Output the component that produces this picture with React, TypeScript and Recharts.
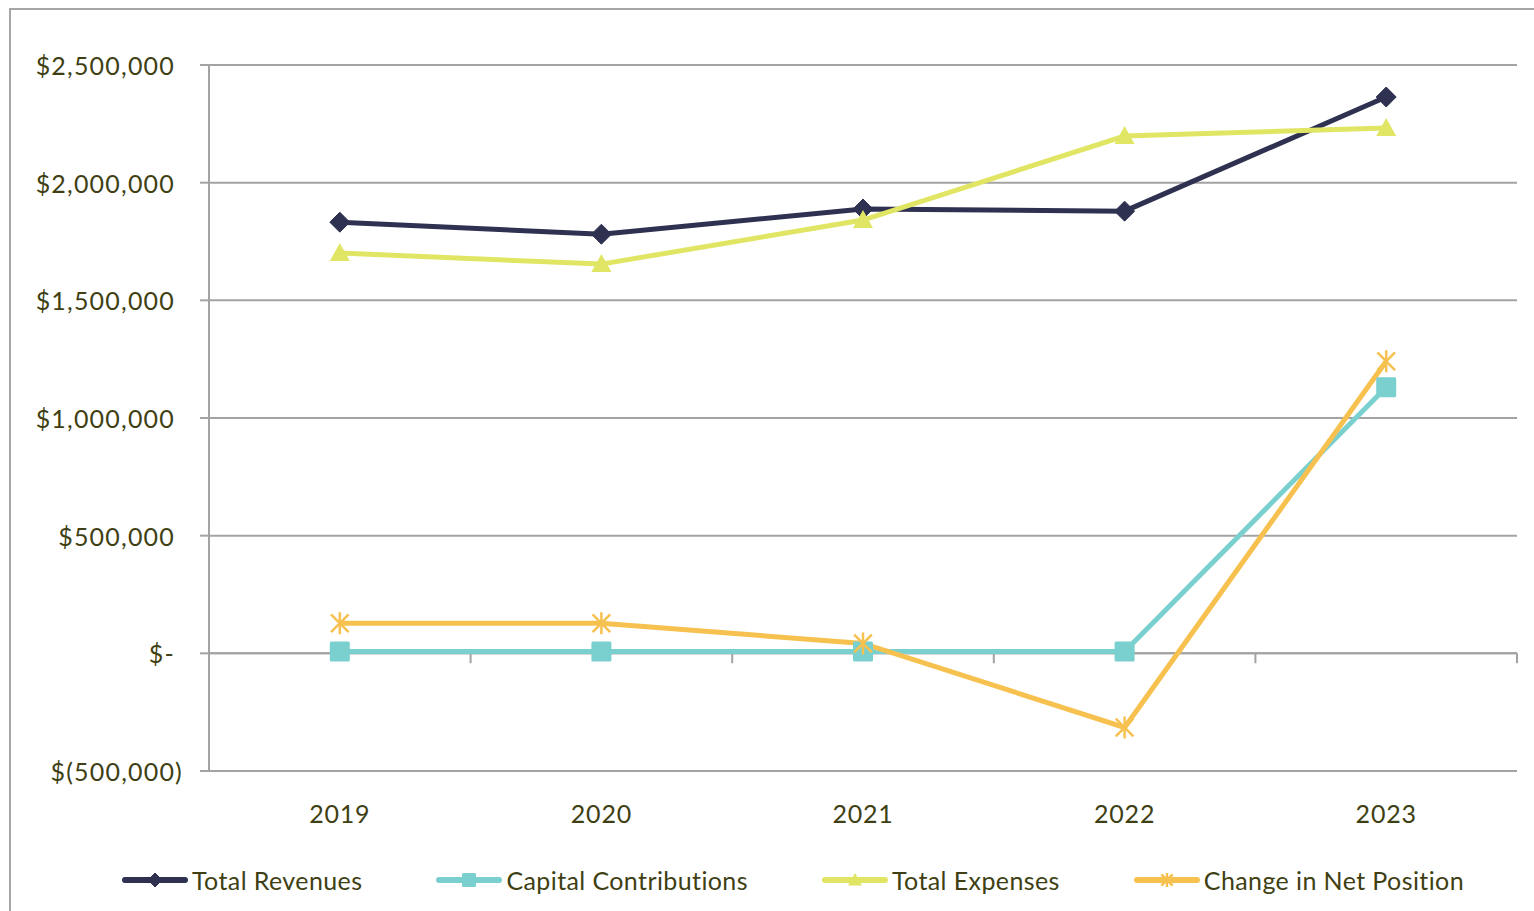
import React from 'react';
import { LineChart, Line, XAxis, YAxis, CartesianGrid, ReferenceLine } from 'recharts';

const years = ['2019', '2020', '2021', '2022', '2023'];
const totalRevenues = [1832000, 1781000, 1888000, 1879000, 2364000];
const capitalContributions = [8000, 8000, 8000, 8000, 1131000];
const totalExpenses = [1701000, 1654000, 1841000, 2198000, 2232000];
const changeInNetPosition = [128000, 128000, 42000, -315000, 1241000];
const yTicks = [-500000, 0, 500000, 1000000, 1500000, 2000000, 2500000];

const TEXT = '#403F14';
const GRID = '#A3A3A3';
const FONT = 'Lato, "Open Sans", sans-serif';

type MarkerKind = 'diamond' | 'square' | 'triangle' | 'star';

const SERIES: { key: string; name: string; color: string; marker: MarkerKind }[] = [
  { key: 'revenues', name: 'Total Revenues', color: '#2E3250', marker: 'diamond' },
  { key: 'capital', name: 'Capital Contributions', color: '#7AD0CF', marker: 'square' },
  { key: 'expenses', name: 'Total Expenses', color: '#E0E664', marker: 'triangle' },
  { key: 'change', name: 'Change in Net Position', color: '#F7C150', marker: 'star' },
];

const data = years.map((year, i) => ({
  year,
  revenues: totalRevenues[i],
  capital: capitalContributions[i],
  expenses: totalExpenses[i],
  change: changeInNetPosition[i],
}));

const formatMoney = (v: number) => {
  if (v === 0) return '$-';
  const s = Math.abs(v).toLocaleString('en-US');
  return v < 0 ? `$(${s})` : `$${s}`;
};

const Marker = ({ kind, cx, cy, r, color }: { kind: MarkerKind; cx: number; cy: number; r: number; color: string }) => {
  if (kind === 'diamond') {
    return <polygon points={`${cx},${cy - r} ${cx + r},${cy} ${cx},${cy + r} ${cx - r},${cy}`} fill={color} stroke={color} strokeWidth={1} strokeLinejoin="round" />;
  }
  if (kind === 'square') {
    return <rect x={cx - r} y={cy - r} width={r * 2} height={r * 2} rx={1.5} fill={color} />;
  }
  if (kind === 'triangle') {
    return <polygon points={`${cx},${cy - r} ${cx + r},${cy + r * 0.8} ${cx - r},${cy + r * 0.8}`} fill={color} />;
  }
  const d = r * 0.8;
  return (
    <g stroke={color} strokeWidth={2.5}>
      <line x1={cx} y1={cy - r} x2={cx} y2={cy + r} />
      <line x1={cx - d} y1={cy - d} x2={cx + d} y2={cy + d} />
      <line x1={cx - d} y1={cy + d} x2={cx + d} y2={cy - d} />
    </g>
  );
};

const makeDot = (kind: MarkerKind, color: string, r: number) => (props: any) => {
  const { cx, cy, index } = props;
  if (cx == null || cy == null) return <g key={index} />;
  return <g key={index}><Marker kind={kind} cx={cx} cy={cy} r={r} color={color} /></g>;
};

const YTick = (props: any) => {
  const { x, y, payload } = props;
  const v = payload.value as number;
  return (
    <text x={x + (v < 0 ? 8 : 0)} y={y} textAnchor="end" dominantBaseline="central" fill={TEXT} fontSize={25} letterSpacing={1.2} fontFamily={FONT}>
      {formatMoney(v)}
    </text>
  );
};

const XTick = (props: any) => {
  const { x, y, payload } = props;
  return (
    <text x={x} y={y + 42} textAnchor="middle" dominantBaseline="central" fill={TEXT} fontSize={25} letterSpacing={0.8} fontFamily={FONT}>
      {payload.value}
    </text>
  );
};

const LegendRow = () => (
  <div style={{ position: 'absolute', left: 122, top: 862, display: 'flex', gap: 74, fontFamily: FONT, fontSize: 25, letterSpacing: 0.4, color: TEXT }}>
    {SERIES.map(s => (
      <div key={s.key} style={{ display: 'flex', alignItems: 'center', height: 36 }}>
        <svg width={66} height={24} style={{ marginRight: 4 }}>
          <line x1={3} y1={12} x2={63} y2={12} stroke={s.color} strokeWidth={6} strokeLinecap="round" />
          <Marker kind={s.marker} cx={33} cy={12} r={7} color={s.color} />
        </svg>
        <span>{s.name}</span>
      </div>
    ))}
  </div>
);

export default function App() {
  return (
    <div style={{ position: 'absolute', left: 0, top: 0, width: 1534, height: 911, overflow: 'hidden', background: '#fff' }}>
      <div style={{ position: 'absolute', left: 9, top: 8, width: 1600, height: 1000, border: '2px solid #A6A6A6' }} />
      <LineChart
        width={1534}
        height={911}
        data={data}
        margin={{ top: 65, right: 17, left: 0, bottom: 80 }}
        style={{ position: 'absolute', left: 0, top: 0 }}
      >
        <CartesianGrid horizontal vertical={false} stroke={GRID} strokeWidth={2} />
        <XAxis dataKey="year" scale="band" height={60} axisLine={false} tickLine={false} tickSize={0} tickMargin={0} tick={<XTick />} />
        <YAxis
          width={209}
          domain={[-500000, 2500000]}
          ticks={yTicks}
          interval={0}
          axisLine={{ stroke: GRID, strokeWidth: 2 }}
          tickLine={{ stroke: GRID, strokeWidth: 2 }}
          tickSize={9}
          tickMargin={25}
          tick={<YTick />}
        />
        <ReferenceLine y={0} stroke={GRID} strokeWidth={2} />
        {/* category-boundary tick marks hanging below the zero line */}
        {years.map(y => (
          <ReferenceLine
            key={y}
            position="end"
            segment={[{ x: y, y: 0 }, { x: y, y: -42000 }]}
            stroke={GRID}
            strokeWidth={2}
          />
        ))}
        {SERIES.map(s => (
          <Line
            key={s.key}
            dataKey={s.key}
            name={s.name}
            stroke={s.color}
            strokeWidth={5}
            dot={makeDot(s.marker, s.color, s.marker === 'star' ? 11 : 10)}
            activeDot={false}
            isAnimationActive={false}
          />
        ))}
      </LineChart>
      <LegendRow />
    </div>
  );
}
